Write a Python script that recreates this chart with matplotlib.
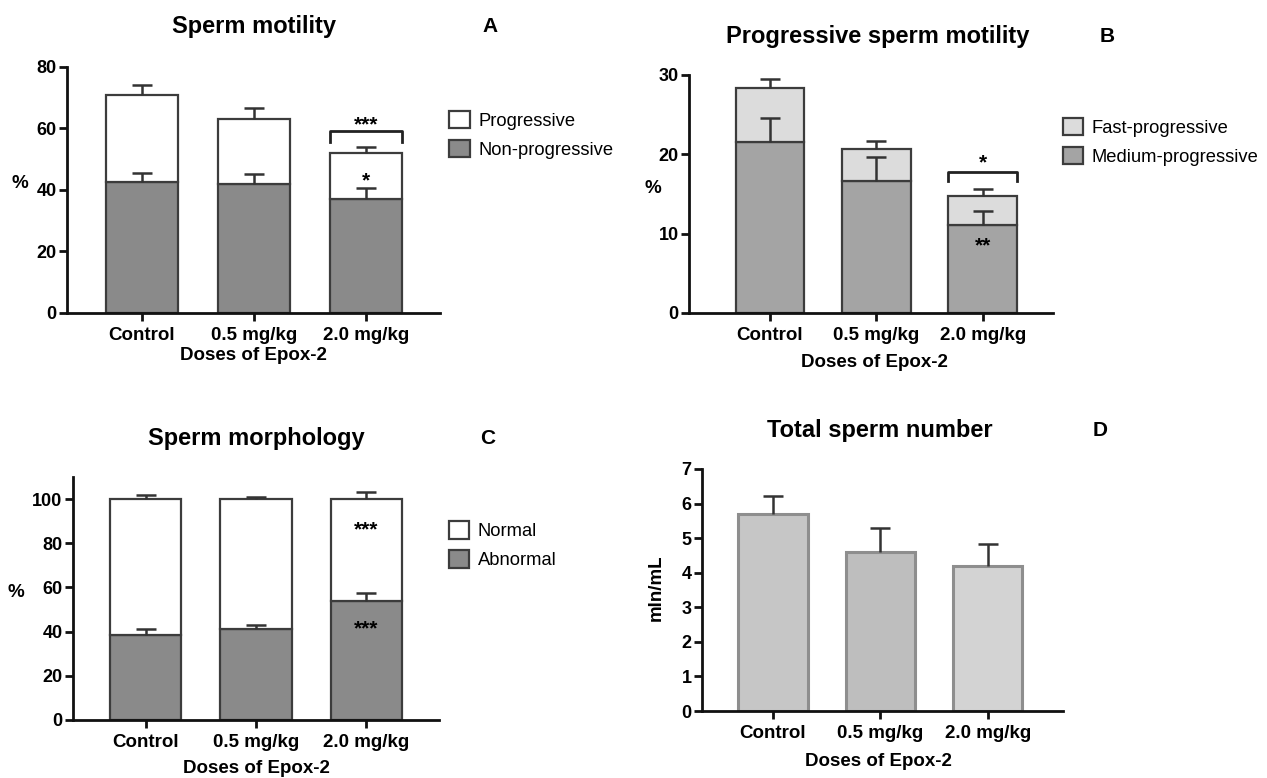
import matplotlib
matplotlib.use("Agg")
import matplotlib.pyplot as plt
import numpy as np

plt.rcParams['font.family'] = ['Liberation Sans', 'DejaVu Sans']

# ---------------- data ----------------
groups = ["Control", "0.5 mg/kg", "2.0 mg/kg"]
xlabel_text = "Doses of Epox-2"

# A: Sperm motility (%)
nonprog = [42.6, 42.0, 37.0]
nonprog_err = [3.0, 3.3, 3.5]
prog = [28.4, 21.1, 14.9]
total_mot_err = [3.2, 3.6, 2.2]

# B: Progressive sperm motility (%)
medium = [21.6, 16.6, 11.1]
medium_err = [3.0, 3.1, 1.8]
fast = [6.7, 4.1, 3.65]
total_prog_err = [1.2, 1.0, 0.85]

# C: Sperm morphology (%)
abnormal = [38.7, 41.3, 53.7]
abnormal_err = [2.6, 1.8, 3.8]
normal = [61.3, 58.7, 46.3]
total_morph_err = [1.8, 0.9, 3.3]

# D: Total sperm number (mln/mL)
count = [5.69, 4.59, 4.19]
count_err = [0.52, 0.70, 0.63]

W, H = 1267, 778
fig = plt.figure(figsize=(W / 100, H / 100), dpi=100)

def add_axes(l, r, b, t):
    return fig.add_axes([l / W, 1 - b / H, (r - l) / W, (b - t) / H])

EDGE = "#3c3c3c"
DARK = "#8a8a8a"
MED = "#a4a4a4"
LIGHT = "#dcdcdc"
TICKFS = 13.5
YTICKFS = 13
STARFS = 15
LEGFS = 13.2

def style(ax, ylim, yticks, xlim):
    ax.set_ylim(*ylim)
    ax.set_xlim(*xlim)
    ax.set_yticks(yticks)
    ax.set_xticks(range(len(groups)))
    ax.set_xticklabels(groups, fontsize=TICKFS, fontweight="bold")
    for lab in ax.get_yticklabels():
        lab.set_fontsize(YTICKFS)
        lab.set_fontweight("bold")
    for s in ["top", "right"]:
        ax.spines[s].set_visible(False)
    for s in ["left", "bottom"]:
        ax.spines[s].set_linewidth(2.0)
        ax.spines[s].set_color("#111111")
    ax.tick_params(axis="both", width=2.0, length=6, color="#111111", direction="out")
    ax.tick_params(axis="x", pad=4)
    ax.tick_params(axis="y", pad=1.5)
    ax.set_xlabel(xlabel_text, fontsize=TICKFS, fontweight="bold")

def up_err(ax, x, y, e, color="#333333"):
    eb = ax.errorbar(x, y, yerr=[np.zeros(len(e)), e], fmt="none", ecolor=color,
                     elinewidth=1.8, capsize=7, capthick=1.8, zorder=4)
    # hide the lower cap (one-sided SEM bars)
    eb[1][0].set_visible(False)

def legend(ax, handles, labels, xa, ya):
    ax.legend(handles, labels, loc="center left", bbox_to_anchor=(xa, ya),
              frameon=False, fontsize=LEGFS, handlelength=1.1, handleheight=1.1,
              handletextpad=0.5, labelspacing=0.55, borderaxespad=0.3)

x = np.arange(len(groups))
BW = 0.645

# ---------------- A ----------------
axA = add_axes(67, 440, 313, 67)
tot_mot = np.array(nonprog) + np.array(prog)
b1 = axA.bar(x, nonprog, BW, color=DARK, edgecolor=EDGE, linewidth=1.6, zorder=2)
b2 = axA.bar(x, prog, BW, bottom=nonprog, color="white", edgecolor=EDGE, linewidth=1.6, zorder=2)
up_err(axA, x, nonprog, nonprog_err)
up_err(axA, x, tot_mot, total_mot_err)
style(axA, (0, 80), [0, 20, 40, 60, 80], (-0.67, 2.66))
axA.set_ylabel("%", rotation=0, fontsize=TICKFS, fontweight="bold")
axA.yaxis.set_label_coords(-0.126, 0.49)
axA.xaxis.set_label_coords(0.501, -0.172)
axA.xaxis.label.set_va("center")
i = 2
yb = tot_mot[i] + total_mot_err[i]
axA.plot([x[i] - BW / 2, x[i] - BW / 2, x[i] + BW / 2, x[i] + BW / 2],
         [yb + 1.6, yb + 5.2, yb + 5.2, yb + 1.6], color="#222222", lw=2.0, zorder=5)
axA.text(x[i], yb + 7.0, "***", ha="center", va="center", fontsize=STARFS, fontweight="bold")
axA.text(x[i], nonprog[i] + nonprog_err[i] + 2.6, "*", ha="center", va="center", fontsize=STARFS, fontweight="bold")
legend(axA, [b2, b1], ["Progressive", "Non-progressive"], 0.991, 0.725)

# ---------------- B ----------------
axB = add_axes(689, 1053, 313, 75)
tot_prog = np.array(medium) + np.array(fast)
c1 = axB.bar(x, medium, BW, color=MED, edgecolor=EDGE, linewidth=1.6, zorder=2)
c2 = axB.bar(x, fast, BW, bottom=medium, color=LIGHT, edgecolor=EDGE, linewidth=1.6, zorder=2)
up_err(axB, x, medium, medium_err)
up_err(axB, x, tot_prog, total_prog_err)
style(axB, (0, 30), [0, 10, 20, 30], (-0.76, 2.66))
axB.set_ylabel("%", rotation=0, fontsize=TICKFS, fontweight="bold")
axB.yaxis.set_label_coords(-0.099, 0.487)
axB.xaxis.set_label_coords(0.51, -0.206)
axB.xaxis.label.set_va("center")
yb = tot_prog[i] + total_prog_err[i]
axB.plot([x[i] - BW / 2, x[i] - BW / 2, x[i] + BW / 2, x[i] + BW / 2],
         [yb + 1.0, yb + 2.2, yb + 2.2, yb + 1.0], color="#222222", lw=2.0, zorder=5)
axB.text(x[i], yb + 3.3, "*", ha="center", va="center", fontsize=STARFS, fontweight="bold")
axB.text(x[i], medium[i] - 2.7, "**", ha="center", va="center", fontsize=STARFS, fontweight="bold")
legend(axB, [c2, c1], ["Fast-progressive", "Medium-progressive"], 0.991, 0.72)

# ---------------- C ----------------
axC = add_axes(73, 439, 720, 477)
tot_morph = np.array(abnormal) + np.array(normal)
d1 = axC.bar(x, abnormal, BW, color=DARK, edgecolor=EDGE, linewidth=1.6, zorder=2)
d2 = axC.bar(x, normal, BW, bottom=abnormal, color="white", edgecolor=EDGE, linewidth=1.6, zorder=2)
up_err(axC, x, abnormal, abnormal_err)
up_err(axC, x, tot_morph, total_morph_err)
style(axC, (0, 110), [0, 20, 40, 60, 80, 100], (-0.66, 2.66))
axC.set_ylabel("%", rotation=0, fontsize=TICKFS, fontweight="bold")
axC.yaxis.set_label_coords(-0.156, 0.49)
axC.xaxis.set_label_coords(0.502, -0.198)
axC.xaxis.label.set_va("center")
axC.text(x[i], tot_morph[i] - 14, "***", ha="center", va="center", fontsize=STARFS, fontweight="bold")
axC.text(x[i], abnormal[i] - 12.5, "***", ha="center", va="center", fontsize=STARFS, fontweight="bold")
legend(axC, [d2, d1], ["Normal", "Abnormal"], 0.991, 0.72)

# ---------------- D ----------------
axD = add_axes(702, 1063, 711, 469)
d_fill = ["#c6c6c6", "#bebebe", "#d3d3d3"]
axD.bar(x, count, BW, color=d_fill, edgecolor="#8e8e8e", linewidth=2.2, zorder=2)
up_err(axD, x, count, count_err)
style(axD, (0, 7), list(range(0, 8)), (-0.66, 2.70))
axD.set_ylabel("mln/mL", fontsize=TICKFS, fontweight="bold")
axD.yaxis.set_label_coords(-0.102, 0.508)
axD.xaxis.set_label_coords(0.49, -0.21)
axD.xaxis.label.set_va("center")

# ---------------- titles & panel letters ----------------
TFS = 17
fig.text(254 / W, 1 - 27 / H, "Sperm motility", ha="center", va="center", fontsize=TFS, fontweight="bold")
fig.text(878 / W, 1 - 37 / H, "Progressive sperm motility", ha="center", va="center", fontsize=TFS, fontweight="bold")
fig.text(256 / W, 1 - 438 / H, "Sperm morphology", ha="center", va="center", fontsize=TFS, fontweight="bold")
fig.text(880 / W, 1 - 430 / H, "Total sperm number", ha="center", va="center", fontsize=TFS, fontweight="bold")
LFS = 15
fig.text(490 / W, 1 - 27 / H, "A", ha="center", va="center", fontsize=LFS, fontweight="bold")
fig.text(1107 / W, 1 - 37 / H, "B", ha="center", va="center", fontsize=LFS, fontweight="bold")
fig.text(488 / W, 1 - 438 / H, "C", ha="center", va="center", fontsize=LFS, fontweight="bold")
fig.text(1100 / W, 1 - 430 / H, "D", ha="center", va="center", fontsize=LFS, fontweight="bold")

fig.savefig("out.png", dpi=100)
